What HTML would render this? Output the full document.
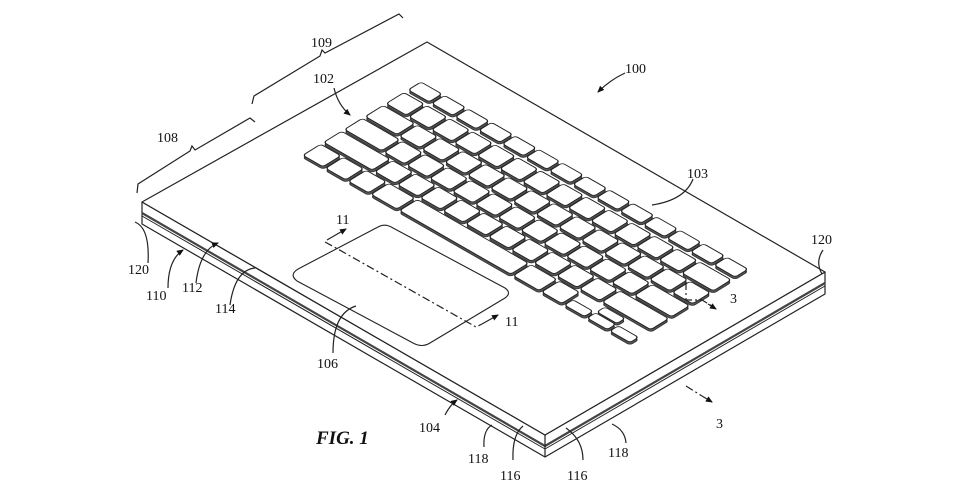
<!DOCTYPE html>
<html><head><meta charset="utf-8"><style>
html,body{margin:0;padding:0;background:#fff;}
svg{display:block;}
text{font-family:"Liberation Serif",serif;font-size:14px;fill:#111;}
</style></head><body>
<svg width="968" height="504" viewBox="0 0 968 504" xmlns="http://www.w3.org/2000/svg">
<defs>
<marker id="ah" markerWidth="8" markerHeight="8" refX="6" refY="3" orient="auto" markerUnits="userSpaceOnUse"><path d="M0,0 L7,3 L0,6 z" fill="#111"/></marker>
</defs>
<g fill="none" stroke="#222" stroke-width="1.2" stroke-linejoin="round">
<path d="M142,202 L545,435 L825,272 L825,294 L545,457 L142,224 Z" fill="#fff"/>
<path d="M142,213 L545,446 L825,283" stroke-width="2.2" stroke="#444"/>
<path d="M142,216 L545,449 L825,286" stroke-width="1"/>
<path d="M545,435 L545,457"/>
<path d="M142,202 L427,42 L825,272 L545,435 Z" fill="#fff"/>
<path d="M300,268 L378,227 Q385,223 393,228 L505,288 Q512,293 505,298 L430,343 Q422,348 413,343 L297,281 Q288,274 300,268 Z" stroke-width="1.1"/>
</g>
<g id="keys" transform="translate(0,2.5) matrix(0.868,0.497,-0.85,0.527,421,82)" fill="#555" stroke="#333" stroke-width="1"></g>
<g id="kbtop" transform="matrix(0.868,0.497,-0.85,0.527,421,82)" fill="#fff" stroke="#222" stroke-width="1.1"></g>

<g fill="none" stroke="#222" stroke-width="1.2">
<path d="M325,242 L336,248 L476,327 L482,324" stroke-dasharray="8,3,2,3"/>
<path d="M327,240 L346,229" marker-end="url(#ah)"/>
<path d="M482,324 L498,315" marker-end="url(#ah)"/>
<path d="M686,282 L686,300 L702,300 L712,306" stroke-dasharray="8,3,2,3"/>
<path d="M708,304 L716,309" marker-end="url(#ah)"/>
<path d="M686,386 L702,396" stroke-dasharray="8,3,2,3"/>
<path d="M702,396 L712,402" marker-end="url(#ah)"/>
<path d="M137,193 L138,184 L190,151 L192,146 L195,150 L250,118 L255,122"/>
<path d="M252,104 L254,96 L320,56 L322,50 L325,53 L399,14 L403,18"/>
<path d="M334,88 Q338,105 350,115" marker-end="url(#ah)"/>
<path d="M625,73 Q610,80 598,92" marker-end="url(#ah)"/>
<path d="M693,179 Q685,200 652,205"/>
<path d="M823,250 Q815,262 822,274"/>
<path d="M148,263 Q150,228 135,222"/>
<path d="M168,288 Q168,260 183,250" marker-end="url(#ah)"/>
<path d="M196,283 Q200,250 218,243" marker-end="url(#ah)"/>
<path d="M230,305 Q235,270 255,268"/>
<path d="M333,353 Q333,313 356,306"/>
<path d="M445,415 Q450,405 457,400" marker-end="url(#ah)"/>
<path d="M484,447 Q483,430 492,425"/>
<path d="M513,460 Q512,435 523,426"/>
<path d="M583,460 Q583,440 566,428"/>
<path d="M626,443 Q625,430 612,424"/>
</g>
<g>
<text x="311" y="47">109</text>
<text x="313" y="83">102</text>
<text x="157" y="142">108</text>
<text x="625" y="73">100</text>
<text x="687" y="178">103</text>
<text x="811" y="244">120</text>
<text x="128" y="274">120</text>
<text x="146" y="300">110</text>
<text x="182" y="292">112</text>
<text x="215" y="313">114</text>
<text x="317" y="368">106</text>
<text x="336" y="224">11</text>
<text x="505" y="326">11</text>
<text x="730" y="303">3</text>
<text x="716" y="428">3</text>
<text x="419" y="432">104</text>
<text x="468" y="463">118</text>
<text x="500" y="480">116</text>
<text x="567" y="480">116</text>
<text x="608" y="457">118</text>
<text x="316" y="444" style="font-size:19px;font-weight:bold;font-style:italic;">FIG. 1</text>
</g>
<script>
(function(){
var U=26.2,rows=[],G=3;
var R=[[0,15],[20,21],[44.5,21],[69,21],[93.5,21],[118,21]];
function row(r,widths){var x=0;widths.forEach(function(w){rows.push([x,R[r][0],w*U-G,R[r][1]]);x+=w*U;});}
var a=[];for(var i=0;i<14;i++)a.push(1.035);row(0,a);
a=[];for(i=0;i<13;i++)a.push(1);a.push(1.5);row(1,a);
a=[1.5];for(i=0;i<12;i++)a.push(1);a.push(1);row(2,a);
a=[1.75];for(i=0;i<11;i++)a.push(1);a.push(1.75);row(3,a);
a=[2.25];for(i=0;i<10;i++)a.push(1);a.push(2.25);row(4,a);
row(5,[1,1,1,1.25,5,1.25,1]);
var ax=11.5*U,y5=R[5][0];
rows.push([ax,y5+11,U-G,10]);rows.push([ax+U,y5+11,U-G,10]);rows.push([ax+2*U,y5+11,U-G,10]);rows.push([ax+U,y5,U-G,9.5]);
var ns="http://www.w3.org/2000/svg",g1=document.getElementById('keys'),g2=document.getElementById('kbtop');
rows.forEach(function(k){[g1,g2].forEach(function(g){var e=document.createElementNS(ns,'rect');e.setAttribute('x',k[0]);e.setAttribute('y',k[1]);e.setAttribute('width',k[2]);e.setAttribute('height',k[3]);e.setAttribute('rx',3);g.appendChild(e);});});
})();
</script>
</svg>
</body></html>
